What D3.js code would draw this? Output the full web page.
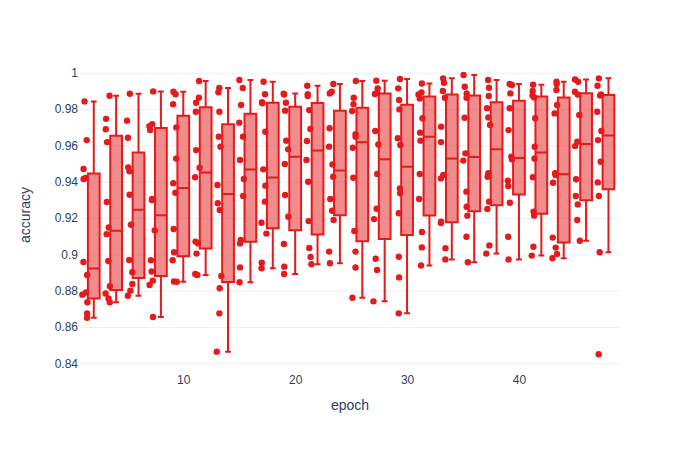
<!DOCTYPE html>
<html>
<head>
<meta charset="utf-8">
<script src="https://cdn.jsdelivr.net/npm/d3@7"></script>
<style>
  body { margin: 0; background: #fff; }
  svg { display: block; }
  text { font-family: "Liberation Sans", Arial, sans-serif; }
</style>
</head>
<body>
<svg id="chart" width="700" height="450"></svg>
<script>
// ---------- data ----------
const epochs = [2, 4, 6, 8, 10, 12, 14, 16, 18, 20, 22, 24, 26, 28, 30, 32, 34, 36, 38, 40, 42, 44, 46, 48];

const acc02 = [0.9842, 0.9629, 0.9470, 0.9420, 0.9415, 0.8958, 0.8886, 0.8790, 0.8778, 0.8736, 0.8675, 0.8651];
const acc04 = [0.9873, 0.9746, 0.9689, 0.9618, 0.9288, 0.9148, 0.9111, 0.8963, 0.8824, 0.8784, 0.8757, 0.8736];
const acc06 = [0.9884, 0.9736, 0.9642, 0.9479, 0.9457, 0.9328, 0.9163, 0.8969, 0.8901, 0.8837, 0.8800, 0.8772];
const acc08 = [0.9897, 0.9716, 0.9706, 0.9684, 0.9305, 0.9299, 0.9132, 0.8967, 0.8905, 0.8855, 0.8831, 0.8655];
const acc10 = [0.9895, 0.9881, 0.9826, 0.9699, 0.9527, 0.9391, 0.9339, 0.9139, 0.9011, 0.8967, 0.8851, 0.8849];
const acc12 = [0.9954, 0.9862, 0.9835, 0.9785, 0.9574, 0.9477, 0.9424, 0.9070, 0.9060, 0.9004, 0.8892, 0.8886];
const acc14 = [0.9916, 0.9892, 0.9785, 0.9648, 0.9593, 0.9382, 0.9281, 0.9244, 0.8881, 0.8813, 0.8675, 0.8464];
const acc16 = [0.9960, 0.9916, 0.9822, 0.9725, 0.9648, 0.9519, 0.9415, 0.9321, 0.9079, 0.9060, 0.8928, 0.8846];
const acc18 = [0.9950, 0.9881, 0.9838, 0.9832, 0.9675, 0.9468, 0.9378, 0.9290, 0.9174, 0.9114, 0.8954, 0.8923];
const acc20 = [0.9885, 0.9880, 0.9835, 0.9791, 0.9626, 0.9578, 0.9497, 0.9327, 0.9207, 0.9057, 0.8932, 0.8892];
const acc22 = [0.9928, 0.9881, 0.9872, 0.9794, 0.9690, 0.9624, 0.9519, 0.9400, 0.9183, 0.9035, 0.8985, 0.8945];
const acc24 = [0.9938, 0.9895, 0.9886, 0.9694, 0.9593, 0.9495, 0.9427, 0.9305, 0.9240, 0.9189, 0.9015, 0.8951];
const acc26 = [0.9954, 0.9862, 0.9826, 0.9789, 0.9662, 0.9648, 0.9587, 0.9422, 0.9128, 0.9015, 0.8927, 0.8761];
const acc28 = [0.9956, 0.9914, 0.9889, 0.9883, 0.9679, 0.9605, 0.9442, 0.9251, 0.9194, 0.8976, 0.8914, 0.8741];
const acc30 = [0.9965, 0.9914, 0.9850, 0.9798, 0.9639, 0.9602, 0.9363, 0.9336, 0.9226, 0.8987, 0.8873, 0.8675];
const acc32 = [0.9941, 0.9891, 0.9880, 0.9858, 0.9749, 0.9670, 0.9626, 0.9442, 0.9305, 0.9123, 0.9038, 0.8939];
const acc34 = [0.9969, 0.9945, 0.9899, 0.9862, 0.9703, 0.9618, 0.9437, 0.9418, 0.9180, 0.9172, 0.9033, 0.8972];
const acc36 = [0.9987, 0.9923, 0.9886, 0.9862, 0.9752, 0.9556, 0.9516, 0.9345, 0.9262, 0.9213, 0.9097, 0.8956];
const acc38 = [0.9960, 0.9917, 0.9872, 0.9804, 0.9754, 0.9712, 0.9446, 0.9427, 0.9290, 0.9250, 0.9049, 0.9004];
const acc40 = [0.9938, 0.9932, 0.9886, 0.9804, 0.9684, 0.9538, 0.9523, 0.9405, 0.9376, 0.9284, 0.9097, 0.8972];
const acc42 = [0.9934, 0.9899, 0.9875, 0.9864, 0.9749, 0.9593, 0.9528, 0.9424, 0.9235, 0.9213, 0.9042, 0.8993];
const acc44 = [0.9950, 0.9938, 0.9905, 0.9822, 0.9776, 0.9446, 0.9437, 0.9394, 0.9092, 0.9037, 0.9002, 0.8978];
const acc46 = [0.9963, 0.9950, 0.9895, 0.9880, 0.9767, 0.9620, 0.9596, 0.9413, 0.9321, 0.9275, 0.9189, 0.9075];
const acc48 = [0.9969, 0.9928, 0.9880, 0.9874, 0.9785, 0.9679, 0.9629, 0.9510, 0.9396, 0.9321, 0.9011, 0.8450];

const accuracyByEpoch = [acc02, acc04, acc06, acc08, acc10, acc12, acc14, acc16, acc18, acc20, acc22, acc24,
                         acc26, acc28, acc30, acc32, acc34, acc36, acc38, acc40, acc42, acc44, acc46, acc48];

const yTickValues = [0.84, 0.86, 0.88, 0.9, 0.92, 0.94, 0.96, 0.98, 1];
const yTickLabels = ["0.84", "0.86", "0.88", "0.9", "0.92", "0.94", "0.96", "0.98", "1"];
const xTickValues = [10, 20, 30, 40];
const xTickLabels = ["10", "20", "30", "40"];

// ---------- layout ----------
const plot = { left: 80, right: 620, top: 60, bottom: 370 };
const RED = "rgb(228,26,28)";
const FILL = "rgba(228,26,28,0.5)";
const TEXT = "#2a3f5f";
const GRID = "#ebf0f8";

const svg = d3.select("#chart");
svg.append("rect").attr("width", 700).attr("height", 450).attr("fill", "#fff");

const x = d3.scaleLinear().domain([0.77, 49.03]).range([plot.left, plot.right]);
const y = d3.scaleLinear().domain([0.8363, 1.007]).range([plot.bottom, plot.top]);

// gridlines
const grid = svg.append("g").attr("transform", `translate(${plot.left},0)`)
  .call(d3.axisLeft(y).tickValues(yTickValues).tickSize(-(plot.right - plot.left)).tickFormat(""));
grid.select(".domain").remove();
grid.selectAll("line").attr("stroke", GRID).attr("stroke-width", 1);

// y labels
const yAx = svg.append("g").attr("transform", `translate(${plot.left},0)`)
  .call(d3.axisLeft(y).tickValues(yTickValues).tickSize(0).tickPadding(2)
    .tickFormat((d, i) => yTickLabels[i]));
yAx.select(".domain").remove();
yAx.selectAll("text").attr("fill", TEXT).attr("font-size", 12)
  .attr("font-family", '"Liberation Sans", Arial, sans-serif');

// x labels
const xAx = svg.append("g").attr("transform", `translate(0,${plot.bottom})`)
  .call(d3.axisBottom(x).tickValues(xTickValues).tickSize(0).tickPadding(5)
    .tickFormat((d, i) => xTickLabels[i]));
xAx.select(".domain").remove();
xAx.selectAll("text").attr("fill", TEXT).attr("font-size", 12)
  .attr("font-family", '"Liberation Sans", Arial, sans-serif');

// axis titles
svg.append("text").attr("x", (plot.left + plot.right) / 2).attr("y", 410)
  .attr("text-anchor", "middle").attr("fill", TEXT).attr("font-size", 14).text("epoch");
svg.append("text").attr("transform", `translate(30,${(plot.top + plot.bottom) / 2}) rotate(-90)`)
  .attr("text-anchor", "middle").attr("fill", TEXT).attr("font-size", 14).text("accuracy");

// ---------- boxes ----------
function interp(arr, p) {
  let n = p * arr.length - 0.5;
  if (n < 0) return arr[0];
  if (n > arr.length - 1) return arr[arr.length - 1];
  const f = n % 1;
  return f * arr[Math.ceil(n)] + (1 - f) * arr[Math.floor(n)];
}

const boxWidthData = 1.05;             // in epoch units
const pxPerUnit = x(1) - x(0);
const halfW = boxWidthData * pxPerUnit / 2;
const rng = d3.randomLcg(0.4217);

const stats = epochs.map((e, i) => {
  const vals = accuracyByEpoch[i].slice().sort(d3.ascending);
  const q1 = interp(vals, 0.25), q3 = interp(vals, 0.75), med = d3.median(vals);
  const iqr = q3 - q1;
  const lo = d3.min(vals.filter(v => v >= q1 - 1.5 * iqr));
  const hi = d3.max(vals.filter(v => v <= q3 + 1.5 * iqr));
  return { e, vals: accuracyByEpoch[i], q1, q3, med, lo, hi };
});

const boxes = svg.append("g");
stats.forEach(s => {
  const cx = x(s.e);
  const g = boxes.append("g");
  // box with median
  g.append("path")
    .attr("d", `M${cx - halfW},${y(s.med)}H${cx + halfW}M${cx - halfW},${y(s.q1)}V${y(s.q3)}H${cx + halfW}V${y(s.q1)}Z` +
      `M${cx},${y(s.q1)}V${y(s.lo)}M${cx},${y(s.q3)}V${y(s.hi)}` +
      `M${cx - halfW / 2},${y(s.lo)}H${cx + halfW / 2}M${cx - halfW / 2},${y(s.hi)}H${cx + halfW / 2}`)
    .attr("fill", FILL).attr("stroke", RED).attr("stroke-width", 2);
});

// points (all, jittered to the left of each box)
const pts = svg.append("g");
stats.forEach(s => {
  const cx = x(s.e) - 1.5 * halfW;
  s.vals.forEach(v => {
    const jx = (rng() - 0.5) * 5.5;
    pts.append("circle").attr("cx", cx + jx).attr("cy", y(v)).attr("r", 3.2).attr("fill", RED);
  });
});
</script>
</body>
</html>
